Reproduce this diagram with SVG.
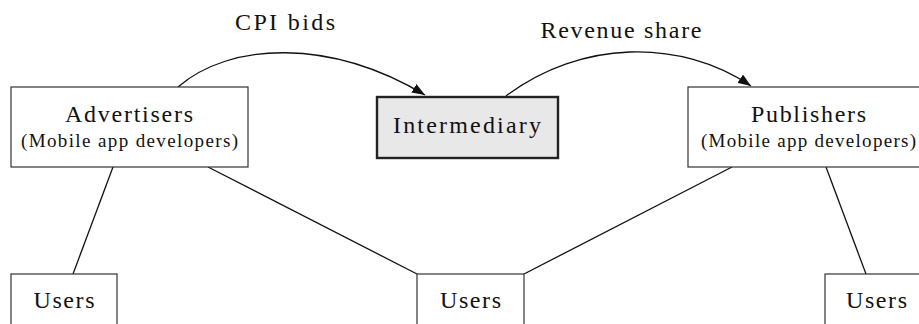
<svg xmlns="http://www.w3.org/2000/svg" width="919" height="324" viewBox="0 0 919 324">
<style>
  .box { fill: #ffffff; stroke: #333333; stroke-width: 1.2; }
  .hub { fill: #e8e8e8; stroke: #222222; stroke-width: 2.4; }
  text { font-family: 'Liberation Serif', serif; fill: #111111; text-anchor: middle; }
  .t { font-size: 24px; }
  .s { font-size: 19px; }
  .edge { fill: none; stroke: #111111; stroke-width: 1.3; }
</style>
<defs>
  <marker id="arrow" markerUnits="userSpaceOnUse" markerWidth="14" markerHeight="10" refX="13" refY="5" orient="auto">
    <path d="M0,0 L13,5 L0,10 Z" fill="#111111"/>
  </marker>
</defs>
<rect width="919" height="324" fill="#ffffff"/>
<g id="connectors">
  <path class="edge" d="M178,87 C230,42 330,38 425,95" marker-end="url(#arrow)"/>
  <path class="edge" d="M506,96 C580,40 680,38 751,86" marker-end="url(#arrow)"/>
  <line class="edge" x1="113" y1="167" x2="73" y2="274"/>
  <line class="edge" x1="208" y1="167" x2="417" y2="274"/>
  <line class="edge" x1="524" y1="274" x2="732" y2="167"/>
  <line class="edge" x1="826" y1="167" x2="866" y2="274"/>
  <text class="t" x="285" y="30" textLength="100" lengthAdjust="spacing">CPI bids</text>
  <text class="t" x="621" y="38" textLength="161" lengthAdjust="spacing">Revenue share</text>
</g>
<g id="advertisers">
  <rect class="box" x="11" y="87" width="237" height="80"/>
  <text class="t" x="129" y="122" textLength="128" lengthAdjust="spacing">Advertisers</text>
  <text class="s" x="129.5" y="147" textLength="217" lengthAdjust="spacing">(Mobile app developers)</text>
</g>
<g id="intermediary">
  <rect class="hub" x="377" y="97" width="181" height="61"/>
  <text class="t" x="467" y="133" textLength="148" lengthAdjust="spacing">Intermediary</text>
</g>
<g id="publishers">
  <rect class="box" x="688" y="87" width="240" height="80"/>
  <text class="t" x="808.5" y="122" textLength="115" lengthAdjust="spacing">Publishers</text>
  <text class="s" x="808.5" y="147" textLength="215" lengthAdjust="spacing">(Mobile app developers)</text>
</g>
<g id="users-left">
  <rect class="box" x="11" y="274" width="106" height="70"/>
  <text class="t" x="64" y="308" textLength="61" lengthAdjust="spacing">Users</text>
</g>
<g id="users-center">
  <rect class="box" x="417" y="274" width="107" height="70"/>
  <text class="t" x="470.5" y="308" textLength="61" lengthAdjust="spacing">Users</text>
</g>
<g id="users-right">
  <rect class="box" x="825" y="274" width="106" height="70"/>
  <text class="t" x="876.5" y="308" textLength="61" lengthAdjust="spacing">Users</text>
</g>
</svg>
